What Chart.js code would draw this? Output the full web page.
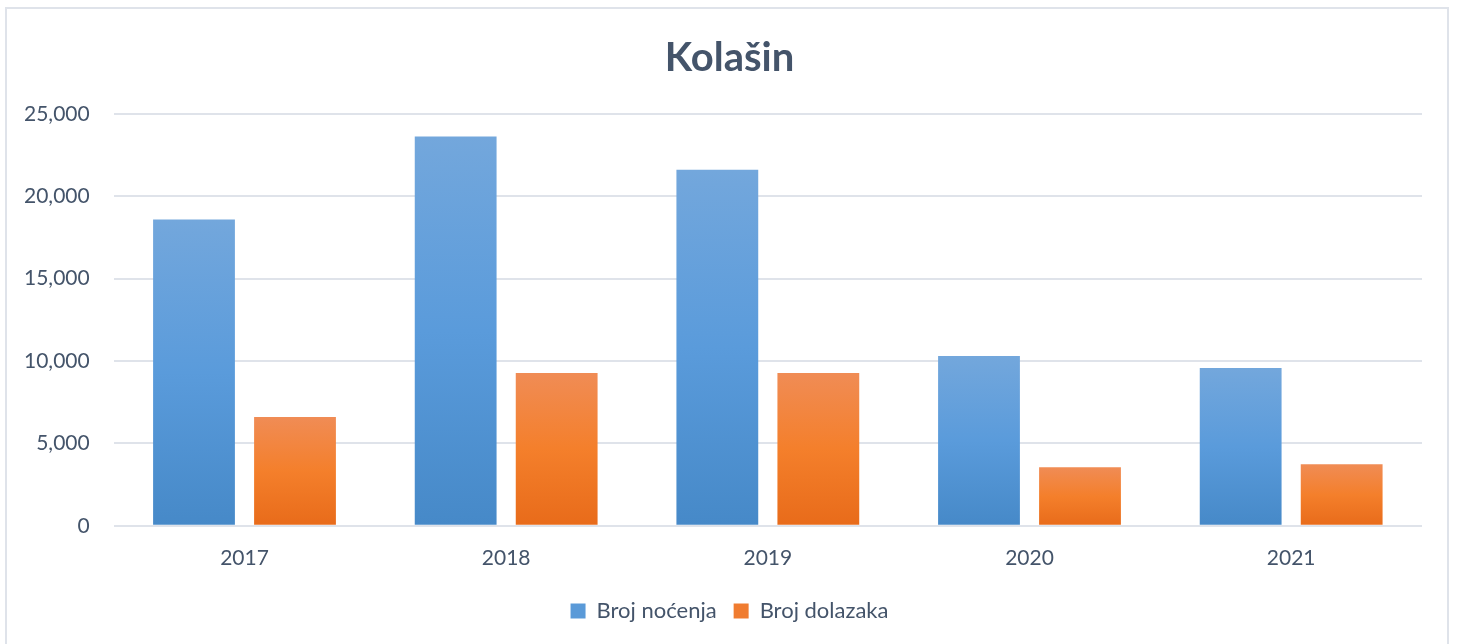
<!DOCTYPE html>
<html>
<head>
<meta charset="utf-8">
<script src="https://cdn.jsdelivr.net/npm/chart.js@4"></script>
<style>
  html, body { margin: 0; padding: 0; background: #fff; }
  #wrap { position: relative; width: 1459px; height: 644px; overflow: hidden; }
  #frame {
    position: absolute; left: 5px; top: 7px; width: 1444px; height: 660px;
    border: 2px solid #dfe3ea; box-sizing: border-box;
  }
  canvas { position: absolute; left: 0; top: 0; }
</style>
</head>
<body>
<div id="wrap">
  <div id="frame"></div>
  <canvas id="chart" width="1459" height="644"></canvas>
</div>
<script>
const years = ['2017', '2018', '2019', '2020', '2021'];
const nocenja = [18600, 23630, 21620, 10310, 9580];
const dolazaka = [6600, 9280, 9280, 3560, 3740];
const yTicks = [0, 5000, 10000, 15000, 20000, 25000];

const textColor = '#44546a';

// each bar gets its own gradient, lighter at its top
function grad(stops) {
  return (context) => {
    const chart = context.chart;
    const { ctx, chartArea } = chart;
    if (!chartArea || context.raw == null) return stops[1];
    const y = chart.scales.y;
    const top = y.getPixelForValue(context.raw);
    const base = y.getPixelForValue(0);
    const g = ctx.createLinearGradient(0, top, 0, base);
    g.addColorStop(0, stops[0]);
    g.addColorStop(0.5, stops[1]);
    g.addColorStop(1, stops[2]);
    return g;
  };
}

Chart.defaults.font.family = 'Lato, "Open Sans", sans-serif';

new Chart(document.getElementById('chart'), {
  type: 'bar',
  data: {
    labels: years,
    datasets: [
      {
        label: 'Broj noćenja',
        data: nocenja,
        backgroundColor: grad(['#73a7dc', '#5a9bdb', '#4689c8']),
        categoryPercentage: 0.772,
        barPercentage: 0.81,
      },
      {
        label: 'Broj dolazaka',
        data: dolazaka,
        backgroundColor: grad(['#f08c55', '#f47f2b', '#e86b1a']),
        categoryPercentage: 0.772,
        barPercentage: 0.81,
      },
    ],
  },
  options: {
    responsive: false,
    animation: false,
    layout: { padding: { left: 0, right: 0, top: 22, bottom: 12 } },
    scales: {
      x: {
        grid: { display: false },
        border: { display: false },
        ticks: { color: textColor, font: { size: 21 }, padding: 12 },
      },
      y: {
        min: 0,
        max: 25000,
        afterBuildTicks: (axis) => { axis.ticks = yTicks.map((v) => ({ value: v })); },
        grid: { color: '#dfe3ea', lineWidth: 2, drawTicks: false },
        border: { display: false },
        ticks: {
          color: textColor,
          font: { size: 21 },
          padding: 24,
          callback: (v) => v.toLocaleString('en-US'),
        },
      },
      // empty right axis, only reserves the right margin
      yRight: {
        position: 'right',
        grid: { display: false },
        border: { display: false },
        ticks: { display: false },
        afterFit: (axis) => { axis.width = 37; },
      },
    },
    plugins: {
      title: {
        display: true,
        text: 'Kolašin',
        color: textColor,
        font: { size: 40, weight: 'bold' },
        padding: { top: 12, bottom: 32 },
      },
      legend: {
        position: 'bottom',
        labels: {
          color: textColor,
          font: { size: 22 },
          boxWidth: 15,
          boxHeight: 15,
          padding: 17,
          generateLabels: (chart) => chart.data.datasets.map((ds, i) => ({
            text: ds.label,
            fillStyle: i === 0 ? '#5a9ad8' : '#f07c30',
            strokeStyle: 'transparent',
            lineWidth: 0,
            fontColor: textColor,
            datasetIndex: i,
          })),
        },
      },
      tooltip: { enabled: false },
    },
  },
});
</script>
</body>
</html>
